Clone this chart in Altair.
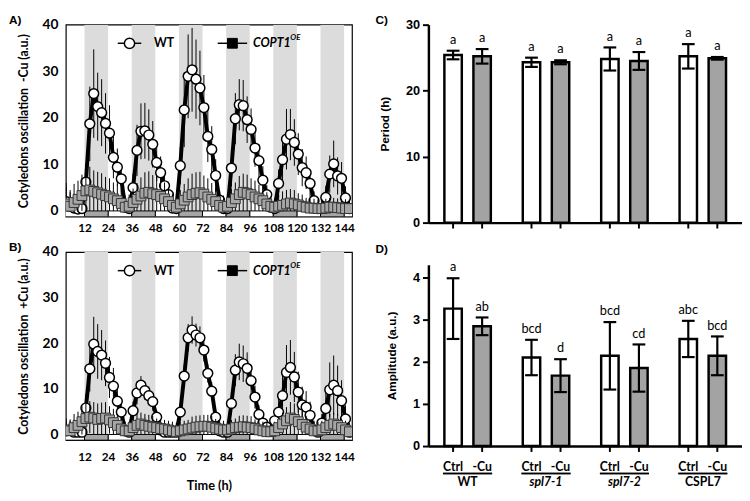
import altair as alt
import pandas as pd

# ---------------- data: time courses (panels A, B) ----------------
time_h = [2.7, 4.7, 6.7, 8.7, 10.7, 12.7, 14.7, 16.7, 18.7, 20.7, 22.7, 24.7,
          26.7, 28.7, 30.7, 32.7, 34.7, 36.7, 38.7, 40.7, 42.7, 44.7, 46.7, 48.7,
          50.7, 52.7, 54.7, 56.7, 58.7, 60.7, 62.7, 64.7, 66.7, 68.7, 70.7, 72.7,
          74.7, 76.7, 78.7, 80.7, 82.7, 84.7, 86.7, 88.7, 90.7, 92.7, 94.7, 96.7,
          98.7, 100.7, 102.7, 104.7, 106.7, 108.7, 110.7, 112.7, 114.7, 116.7, 118.7, 120.7,
          122.7, 124.7, 126.7, 128.7, 130.7, 132.7, 134.7, 136.7, 138.7, 140.7, 142.7, 144.7,
          146.7]

phase_start = [0, 12, 24, 36, 48, 60, 72, 84, 96, 108, 120, 132, 144]
phase_end = [12, 24, 36, 48, 60, 72, 84, 96, 108, 120, 132, 144, 156]
phase = ["L", "D", "L", "D", "L", "D", "L", "D", "L", "D", "L", "D", "L"]
time_ticks = [12, 24, 36, 48, 60, 72, 84, 96, 108, 120, 132, 144]

# -Cu (panel A)
wt_minus_cu = [2.0, 1.0, 0.6, 0.4, 0.5,
               6.2, 18.7, 25.2, 22.4, 21.1, 18.8, 16.7, 11.5, 9.4, 6.9, 0.8, 0.5,
               5.0, 13.0, 17.1, 17.2, 16.3, 14.3, 10.4, 8.2, 5.4, 3.5, 0.6, 0.5,
               9.7, 21.7, 28.9, 30.3, 28.3, 26.4, 22.2, 16.0, 13.2, 7.6, 2.3, 0.5, 0.5,
               9.2, 19.8, 22.8, 22.6, 19.6, 17.5, 13.5, 10.8, 6.6, 3.5, 0.8, 0.5,
               5.9, 11.0, 15.4, 16.4, 14.7, 12.2, 9.3, 8.2, 5.9, 2.2, 0.5, 0.5,
               2.9, 7.9, 10.1, 7.5, 7.0, 2.8, 0.5]
wt_minus_cu_err = [4, 3, 3, 3, 3,
                   4, 8, 9.5, 7.3, 7.2, 6.5, 6, 4.5, 4, 3, 2, 2,
                   3, 5.5, 6, 6, 5.5, 5, 4, 3.5, 3, 2.5, 2, 2,
                   4, 8, 9, 9, 8.5, 8, 7, 5.5, 5, 3.5, 2, 2, 2,
                   4, 5.5, 5.5, 5.5, 5, 4.5, 4, 3.5, 3, 2, 2, 2,
                   3, 4.5, 6.5, 5.5, 5, 4.5, 4, 3.5, 3, 2, 2, 2,
                   2.5, 4, 5, 4, 3.5, 2.5, 2]
copt_minus_cu = [1.5, 1.0, 1.8, 2.5, 3.3,
                 4.3, 4.5, 4.2, 3.9, 3.6, 3.3, 3.0, 2.6, 2.2, 1.6, 0.8, 1.0,
                 1.8, 2.5, 3.2, 3.8, 4.0, 3.7, 3.5, 3.1, 2.6, 2.0, 1.2, 0.8,
                 1.5, 2.3, 3.0, 3.5, 3.8, 3.9, 3.6, 3.0, 2.5, 2.0, 1.2, 0.8, 1.0,
                 1.8, 2.6, 3.5, 4.0, 3.8, 3.5, 3.0, 2.6, 2.2, 1.5, 1.0, 0.8,
                 1.0, 1.2, 1.5, 1.7, 1.5, 1.3, 1.0, 0.8, 0.6, 0.6, 0.5, 0.5,
                 0.6, 0.8, 0.8, 0.7, 0.6, 0.5, 0.5]
copt_minus_cu_err = [3.5, 3.5, 4, 4, 4.5,
                     5, 5, 4.5, 4.5, 4.5, 4, 4, 3.5, 3.5, 3, 2.5, 2.5,
                     3, 3.5, 4, 4.5, 4.5, 4, 4, 3.5, 3.5, 3, 2.5, 2.5,
                     3, 3.5, 4, 4.5, 4.5, 4.5, 4, 4, 3.5, 3, 2.5, 2.5, 2.5,
                     3, 3.5, 4, 4, 4, 3.5, 3.5, 3, 3, 2.5, 2, 2,
                     2.5, 3, 3, 3, 3, 2.5, 2.5, 2, 2, 2, 2, 2,
                     2, 2, 2, 2, 2, 2, 2]

# +Cu (panel B)
wt_plus_cu = [0.8, 1.0, 0.5, 0.5, 0.5,
              5.8, 14.4, 19.8, 18.2, 17.4, 15.6, 12.5, 10.6, 7.3, 4.9, 0.8, 0.5,
              5.2, 9.1, 10.8, 9.6, 8.5, 7.2, 3.8, 1.0, 0.5, 0.5, 0.5, 0.5,
              4.9, 12.8, 21.2, 22.9, 21.8, 21.2, 18.5, 13.4, 9.5, 3.8, 0.8, 0.5, 0.5,
              6.8, 14.1, 15.9, 15.5, 14.5, 11.8, 8.2, 4.4, 2.5, 1.6, 0.8, 3.0,
              4.9, 8.5, 13.6, 14.7, 12.6, 9.3, 6.5, 6.0, 4.2, 1.0, 0.5, 2.5,
              5.7, 9.8, 10.8, 9.6, 7.4, 3.4, 0.5]
wt_plus_cu_err = [2, 2, 1.5, 1.5, 1.5,
                  3, 5, 6, 6, 5.5, 5, 4.5, 4, 3, 2.5, 1.5, 1.5,
                  2, 2.5, 2, 2, 2, 2, 1.5, 1.5, 1.5, 1.5, 1.5, 1.5,
                  2, 2.5, 3, 3, 2.5, 2.5, 2.5, 2, 2, 1.5, 1.5, 1.5, 1.5,
                  2.5, 3.5, 4, 4, 3.5, 3, 2.5, 2, 1.5, 1.5, 1.5, 2,
                  3, 4.5, 6, 6, 5.5, 4.5, 4, 3.5, 3, 2, 1.5, 2,
                  3.5, 6, 6.5, 5.5, 4.5, 3, 1.5]
copt_plus_cu = [1.0, 0.8, 1.5, 2.0, 2.8,
                3.5, 3.8, 3.6, 3.3, 3.5, 3.6, 3.2, 2.6, 2.0, 1.2, 0.8, 0.8,
                1.5, 2.0, 2.3, 2.0, 1.8, 1.6, 1.5, 1.3, 1.2, 1.0, 0.8, 0.6,
                0.8, 1.0, 1.2, 1.4, 1.6, 1.7, 1.8, 1.8, 1.6, 1.4, 1.2, 1.0, 1.0,
                1.2, 1.5, 1.6, 1.7, 1.6, 1.5, 1.3, 1.0, 0.8, 0.6, 0.6, 0.8,
                1.5, 2.3, 3.0, 3.6, 3.3, 2.8, 2.2, 1.6, 1.2, 0.8, 0.8, 1.0,
                1.5, 2.0, 2.3, 2.0, 1.5, 1.0, 0.6]
copt_plus_cu_err = [2.5, 2.5, 3, 3, 3.5,
                    3.5, 3.5, 3.5, 3.5, 3.5, 3.5, 3, 3, 2.5, 2.5, 2, 2,
                    2.5, 2.5, 2.5, 2.5, 2.5, 2.5, 2, 2, 2, 2, 2, 2,
                    2, 2, 2, 2.5, 2.5, 2.5, 2.5, 2.5, 2.5, 2, 2, 2, 2,
                    2, 2, 2.5, 2.5, 2.5, 2.5, 2, 2, 2, 2, 2, 2,
                    2, 2.5, 3, 3.5, 3.5, 3, 3, 2.5, 2, 2, 2, 2,
                    2, 2.5, 2.5, 2.5, 2, 2, 2]

# ---------------- data: bar panels (C, D) ----------------
groups = ["WT", "spl7-1", "spl7-2", "CSPL7"]
conds = ["Ctrl", "-Cu"]
period_mean = [25.4, 25.2, 24.3, 24.3, 24.8, 24.5, 25.2, 24.9]
period_err = [0.65, 1.1, 0.7, 0.3, 1.75, 1.35, 1.85, 0.2]
period_letters = ["a", "a", "a", "a", "a", "a", "a", "a"]
amp_mean = [3.26, 2.84, 2.10, 1.67, 2.14, 1.85, 2.54, 2.14]
amp_err = [0.72, 0.21, 0.42, 0.39, 0.80, 0.56, 0.43, 0.46]
amp_letters = ["a", "ab", "bcd", "d", "bcd", "cd", "abc", "bcd"]

FA = "Lato"
FB = "Liberation Sans"
BAND_GRAY = "#dcdcdc"
STRIP_GRAY = "#a6a6a6"
BAR_GRAY = "#a3a3a3"
one = pd.DataFrame({"k": [0]})


def time_panel(wt, wte, op, ope, ytitle, xtitle, tag, H, lab_pad, tag_y):
    W = 292
    df = pd.DataFrame({"t": time_h, "wt": wt, "wte": wte, "op": op, "ope": ope})
    ph = pd.DataFrame({"s": phase_start, "e": phase_end, "p": phase})
    xs = alt.Scale(domain=[2.5, 148], nice=False, zero=False)
    ys = alt.Scale(domain=[-1.25, 40], nice=False, zero=False)
    xax = alt.Axis(values=time_ticks, ticks=False, domain=False, grid=False,
                   labelFont=FA, labelFontWeight="bold", labelFontSize=12,
                   labelColor="black", labelPadding=lab_pad, labelFlush=False,
                   title=xtitle, titleFont=FA, titleFontWeight="bold",
                   titleFontSize=13, titleColor="black", titlePadding=17)
    yax = alt.Axis(values=[0, 10, 20, 30, 40], ticks=False, domain=False, grid=False,
                   labelFont=FA, labelFontWeight="bold", labelFontSize=14,
                   labelColor="black", labelPadding=8, labelFlush=False,
                   title=ytitle, titleFont=FA, titleFontWeight="bold",
                   titleFontSize=12.5, titleColor="black", titlePadding=12)

    def X(f):
        return alt.X(f, scale=xs, axis=xax)

    def Y(f):
        return alt.Y(f, scale=ys, axis=yax)

    phb = alt.Chart(ph).transform_calculate(ytop="40", yzero="0", ylow="-1.25")
    bands = phb.transform_filter("datum.p == 'D'").mark_rect(
        color=BAND_GRAY, clip=True).encode(x=X("s:Q"), x2="e:Q", y=Y("yzero:Q"), y2="ytop:Q")
    strip_l = phb.transform_filter("datum.p == 'L'").mark_rect(
        fill="white", stroke="black", strokeWidth=1, clip=True).encode(
        x=X("s:Q"), x2="e:Q", y=Y("ylow:Q"), y2="yzero:Q")
    strip_d = phb.transform_filter("datum.p == 'D'").mark_rect(
        fill=STRIP_GRAY, stroke="black", strokeWidth=1, clip=True).encode(
        x=X("s:Q"), x2="e:Q", y=Y("ylow:Q"), y2="yzero:Q")

    base = alt.Chart(df).transform_calculate(
        wlo="max(0, datum.wt - datum.wte)", whi="datum.wt + datum.wte",
        olo="max(0, datum.op - datum.ope)", ohi="datum.op + datum.ope")
    wt_err = base.mark_rule(color="black", strokeWidth=1, clip=True).encode(
        x=X("t:Q"), y=Y("wlo:Q"), y2="whi:Q")
    wt_line = base.mark_line(color="black", strokeWidth=4, clip=True).encode(
        x=X("t:Q"), y=Y("wt:Q"))
    wt_pts = base.mark_point(shape="circle", filled=True, fill="white", stroke="black",
                             strokeWidth=1.5, size=100, opacity=1, clip=True).encode(
        x=X("t:Q"), y=Y("wt:Q"))
    op_err = base.mark_rule(color="black", strokeWidth=1, clip=True).encode(
        x=X("t:Q"), y=Y("olo:Q"), y2="ohi:Q")
    op_line = base.mark_line(color="black", strokeWidth=1.5, clip=True).encode(
        x=X("t:Q"), y=Y("op:Q"))
    op_pts = base.mark_point(shape="square", filled=True, fill=STRIP_GRAY, stroke="#333333",
                             strokeWidth=1, size=100, opacity=1, clip=True).encode(
        x=X("t:Q"), y=Y("op:Q"))

    oc = alt.Chart(one)
    ly = 19
    leg = [
        oc.mark_rule(color="black", strokeWidth=1.5).encode(
            x=alt.value(53), x2=alt.value(77), y=alt.value(ly)),
        oc.mark_point(shape="circle", filled=True, fill="white", stroke="black",
                      strokeWidth=1.5, size=110, opacity=1).encode(
            x=alt.value(65), y=alt.value(ly)),
        oc.mark_text(text="WT", align="left", baseline="middle", font=FA,
                     fontWeight="bold", fontSize=12.5, color="black").encode(
            x=alt.value(90), y=alt.value(ly)),
        oc.mark_rule(color="black", strokeWidth=1.5).encode(
            x=alt.value(155), x2=alt.value(185), y=alt.value(ly)),
        oc.mark_point(shape="square", filled=True, fill="black", stroke="black",
                      strokeWidth=1, size=100, opacity=1).encode(
            x=alt.value(170), y=alt.value(ly)),
        oc.mark_text(text="COPT1", align="left", baseline="middle", font=FA,
                     fontWeight="bold", fontStyle="italic", fontSize=12.5, color="black").encode(
            x=alt.value(191), y=alt.value(ly)),
        oc.mark_text(text="OE", align="left", baseline="middle", font=FA,
                     fontWeight="bold", fontStyle="italic", fontSize=8, color="black").encode(
            x=alt.value(229), y=alt.value(ly - 5)),
        oc.mark_text(text=tag, align="left", baseline="middle", font=FB,
                     fontWeight="bold", fontSize=12, color="black").encode(
            x=alt.value(-58), y=alt.value(tag_y)),
    ]
    return alt.layer(bands, strip_l, strip_d, wt_err, wt_line, wt_pts,
                     op_err, op_line, op_pts, *leg).properties(
        width=W, height=H,
        view=alt.ViewBackground(stroke="black", strokeWidth=1.2))


bars_df = pd.DataFrame({
    "g": [g for g in groups for _ in conds],
    "c": conds * len(groups),
    "period": period_mean, "pe": period_err, "lp": period_letters,
    "amp": amp_mean, "ae": amp_err, "la": amp_letters,
})


def bar_panel(val, err, let, ydom, yvals, ytitle, H, tag, tag_y, with_labels):
    W = 320
    xsc = alt.Scale(domain=groups, paddingInner=0, paddingOuter=0)
    xax = alt.Axis(labels=False, ticks=False, title=None, grid=False,
                   domainWidth=2.5, domainColor="black")
    xoff = alt.XOffset("c:N", scale=alt.Scale(domain=conds, paddingInner=0.40,
                                              paddingOuter=0.55))
    ysc = alt.Scale(domain=ydom, nice=False, zero=True)
    yax = alt.Axis(values=yvals, grid=False, domainWidth=2.5, domainColor="black",
                   tickWidth=2, tickSize=6, tickColor="black",
                   labelFont=FB, labelFontWeight="bold", labelFontSize=13,
                   labelColor="black", labelPadding=3, labelFlush=False,
                   title=ytitle, titleFont=FB, titleFontWeight="bold",
                   titleFontSize=12, titleColor="black", titlePadding=14)
    X = alt.X("g:N", scale=xsc, axis=xax)
    base = alt.Chart(bars_df).transform_calculate(
        v=f"datum.{val}", lo=f"datum.{val} - datum.{err}", hi=f"datum.{val} + datum.{err}")
    bar_ctrl = base.transform_filter("datum.c == 'Ctrl'").mark_bar(
        fill="white", stroke="black", strokeWidth=2.5).encode(
        x=X, xOffset=xoff, y=alt.Y("v:Q", scale=ysc, axis=yax))
    bar_cu = base.transform_filter("datum.c == '-Cu'").mark_bar(
        fill=BAR_GRAY, stroke="black", strokeWidth=2.5).encode(
        x=X, xOffset=xoff, y=alt.Y("v:Q", scale=ysc, axis=yax))
    eb = base.mark_rule(color="black", strokeWidth=2.2).encode(
        x=X, xOffset=xoff, y=alt.Y("lo:Q", scale=ysc, axis=yax), y2="hi:Q")
    cap_lo = base.mark_tick(orient="horizontal", size=13, thickness=2.2, color="black",
                            opacity=1).encode(
        x=X, xOffset=xoff, y=alt.Y("lo:Q", scale=ysc, axis=yax))
    cap_hi = base.mark_tick(orient="horizontal", size=13, thickness=2.2, color="black",
                            opacity=1).encode(
        x=X, xOffset=xoff, y=alt.Y("hi:Q", scale=ysc, axis=yax))
    letters = base.mark_text(baseline="alphabetic", dy=-7, font=FA, fontSize=13,
                             color="black").encode(
        x=X, xOffset=xoff, y=alt.Y("hi:Q", scale=ysc, axis=yax), text=f"{let}:N")
    xticks = base.mark_rule(color="black", strokeWidth=2).encode(
        x=X, xOffset=xoff, y=alt.value(H), y2=alt.value(H + 6))
    layers = [bar_ctrl, bar_cu, eb, cap_lo, cap_hi, letters, xticks]
    if with_labels:
        layers.append(base.mark_text(baseline="middle", font=FA, fontWeight="bold",
                                     fontSize=12.5, color="black").encode(
            x=X, xOffset=xoff, y=alt.value(H + 21), text="c:N"))
        layers.append(base.mark_tick(orient="horizontal", size=50, thickness=1.5,
                                     color="black", opacity=1).encode(
            x=X, y=alt.value(H + 28)))
        layers.append(base.transform_filter("datum.c == 'Ctrl' && indexof(datum.g, 'spl7') < 0")
                      .mark_text(baseline="middle", font=FA, fontWeight="bold",
                                 fontSize=12.5, color="black").encode(
            x=X, y=alt.value(H + 37), text="g:N"))
        layers.append(base.transform_filter("datum.c == 'Ctrl' && indexof(datum.g, 'spl7') >= 0")
                      .mark_text(baseline="middle", font=FA, fontWeight="bold",
                                 fontStyle="italic", fontSize=12.5, color="black").encode(
            x=X, y=alt.value(H + 37), text="g:N"))
    layers.append(alt.Chart(one).mark_text(text=tag, align="left", baseline="middle",
                                           font=FB, fontWeight="bold", fontSize=12,
                                           color="black").encode(
        x=alt.value(-54), y=alt.value(tag_y)))
    return alt.layer(*layers).properties(width=W, height=H)


A = time_panel(wt_minus_cu, wt_minus_cu_err, copt_minus_cu, copt_minus_cu_err,
               "Cotyledons oscillation\u00a0\u00a0-Cu (a.u.)", None, "A)", 196, 6, -5)
B = time_panel(wt_plus_cu, wt_plus_cu_err, copt_plus_cu, copt_plus_cu_err,
               "Cotyledons oscillation\u00a0\u00a0+Cu (a.u.)", "Time (h)", "B)", 192, 12, -5)
C = bar_panel("period", "pe", "lp", [0, 30], [0, 10, 20, 30], "Period (h)", 202, "C)", -5, False)
D = bar_panel("amp", "ae", "la", [0, 4.3], [0, 1, 2, 3, 4], "Amplitude (a.u.)", 185, "D)", -16, True)

left = alt.vconcat(A, B, spacing=6)
right = alt.vconcat(C, D, spacing=14)
chart = alt.hconcat(left, right, spacing=20).properties(padding=0).configure(
    font=FA, padding=0).configure_view(strokeWidth=0)

chart.save("out.html", embed_options={"renderer": "svg", "actions": False})
